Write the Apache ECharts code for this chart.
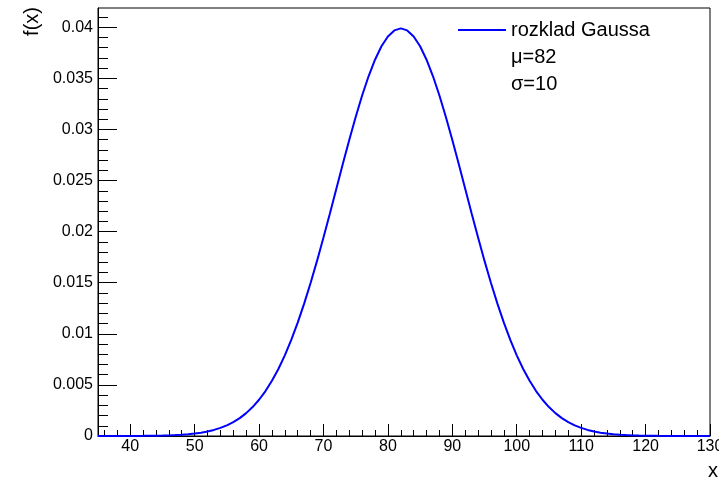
<!DOCTYPE html>
<html><head><meta charset="utf-8">
<script src="https://cdn.jsdelivr.net/npm/echarts@6/dist/echarts.min.js"></script>
<style>html,body{margin:0;padding:0;background:#fff}#c{width:719px;height:480px}</style>
</head><body><div id="c"></div>
<script>
// x positions (step 1) and f(x) values
const xValues = [35,36,37,38,39,40,41,42,43,44,45,46,47,48,49,50,51,52,53,54,55,56,57,58,59,60,61,62,63,64,65,66,67,68,69,70,71,72,73,74,75,76,77,78,79,80,81,82,83,84,85,86,87,88,89,90,91,92,93,94,95,96,97,98,99,100,101,102,103,104,105,106,107,108,109,110,111,112,113,114,115,116,117,118,119,120,121,122,123,124,125,126,127,128,129,130];
const yValues = [
  0.0000006,0.000001,0.0000016,0.0000025,0.000004,0.000006,0.000009,0.000013,0.00002,0.000029,
  0.000042,0.000061,0.000087,0.000123,0.000172,0.000238,0.000327,0.000443,0.000595,0.000792,
  0.001042,0.001358,0.001753,0.002239,0.002833,0.003547,0.004398,0.005399,0.006562,0.007895,
  0.009405,0.011092,0.012952,0.014973,0.017137,0.019419,0.021785,0.024197,0.026609,0.028969,
  0.031225,0.033322,0.035207,0.036827,0.038139,0.039104,0.039695,0.039894,
  0.039695,0.039104,0.038139,0.036827,0.035207,0.033322,0.031225,0.028969,0.026609,0.024197,
  0.021785,0.019419,0.017137,0.014973,0.012952,0.011092,0.009405,0.007895,0.006562,0.005399,
  0.004398,0.003547,0.002833,0.002239,0.001753,0.001358,0.001042,0.000792,0.000595,0.000443,
  0.000327,0.000238,0.000172,0.000123,0.000087,0.000061,0.000042,0.000029,0.00002,0.000013,
  0.000009,0.000006,0.000004,0.0000025,0.0000016,0.000001,0.0000006,0.0000004
];
const seriesName = 'rozklad Gaussa';
const legendExtra = ['\u03bc=82', '\u03c3=10'];
const xAxisTitle = 'x';
const yAxisTitle = 'f(x)';
const xMin = 35, xMax = 130;
const yMin = 0, yMax = 0.041888;
const xMajorTicks = [40,50,60,70,80,90,100,110,120,130];
const xMinorTicks = [36,38,42,44,46,48,52,54,56,58,62,64,66,68,72,74,76,78,82,84,86,88,92,94,96,98,102,104,106,108,112,114,116,118,122,124,126,128];
const yMajorTicks = [0,0.005,0.01,0.015,0.02,0.025,0.03,0.035,0.04];
const yMajorLabels = ['0','0.005','0.01','0.015','0.02','0.025','0.03','0.035','0.04'];
const yMinorTicks = [0.001,0.002,0.003,0.004,0.006,0.007,0.008,0.009,0.011,0.012,0.013,0.014,0.016,0.017,0.018,0.019,0.021,0.022,0.023,0.024,0.026,0.027,0.028,0.029,0.031,0.032,0.033,0.034,0.036,0.037,0.038,0.039,0.041];

const FONT = "'Liberation Sans', Arial, Helvetica, sans-serif";
const chart = echarts.init(document.getElementById('c'), null, {renderer: 'canvas'});
const yLabel = v => {
  const i = yMajorTicks.findIndex(t => Math.abs(t - v) < 1e-9);
  return i >= 0 ? yMajorLabels[i] : '';
};
const xLabel = v => {
  const i = xMajorTicks.findIndex(t => Math.abs(t - v) < 1e-9);
  return i >= 0 ? String(xMajorTicks[i]) : '';
};
chart.setOption({
  animation: false,
  backgroundColor: '#fff',
  grid: {left: 98, right: 9, top: 8, bottom: 44, show: true, borderColor: '#000', borderWidth: 1, containLabel: false, outerBoundsMode: 'none'},
  legend: {
    data: [seriesName], left: 458, top: 20, padding: 0,
    icon: 'rect', itemWidth: 48, itemHeight: 2,
    textStyle: {fontFamily: FONT, fontSize: 20, lineHeight: 20, color: '#000'}
  },
  graphic: [
    {type: 'text', left: 511, top: 47, style: {text: legendExtra[0], font: '20px ' + FONT, fill: '#000'}},
    {type: 'text', left: 511, top: 74, style: {text: legendExtra[1], font: '20px ' + FONT, fill: '#000'}},
    {type: 'text', x: 32, y: 7, rotation: Math.PI / 2, style: {text: yAxisTitle, font: '20px ' + FONT, fill: '#000', textAlign: 'right', textVerticalAlign: 'middle'}},
    {type: 'text', x: 713, y: 471, style: {text: xAxisTitle, font: '20px ' + FONT, fill: '#000', textAlign: 'center', textVerticalAlign: 'middle'}}
  ],
  xAxis: [
    {
      type: 'value', min: xMin, max: xMax, position: 'bottom',
      splitLine: {show: false},
      axisLine: {show: true, lineStyle: {color: '#000', width: 1}},
      axisTick: {show: true, inside: true, length: 12, customValues: xMajorTicks, lineStyle: {color: '#000'}},
      axisLabel: {show: true, customValues: xMajorTicks, formatter: xLabel, margin: 3, fontFamily: FONT, fontSize: 16, color: '#000', hideOverlap: false}
    },
    {
      type: 'value', min: xMin, max: xMax, position: 'bottom', offset: 0,
      splitLine: {show: false},
      axisLine: {show: false},
      axisTick: {show: true, inside: true, length: 6, customValues: xMinorTicks, lineStyle: {color: '#000'}},
      axisLabel: {show: false}
    }
  ],
  yAxis: [
    {
      type: 'value', min: yMin, max: yMax, position: 'left',
      splitLine: {show: false},
      axisLine: {show: true, lineStyle: {color: '#000', width: 1}},
      axisTick: {show: true, inside: true, length: 19, customValues: yMajorTicks, lineStyle: {color: '#000'}},
      axisLabel: {show: true, customValues: yMajorTicks, formatter: yLabel, margin: 5, fontFamily: FONT, fontSize: 16, color: '#000', hideOverlap: false}
    },
    {
      type: 'value', min: yMin, max: yMax, position: 'left', offset: 0,
      splitLine: {show: false},
      axisLine: {show: false},
      axisTick: {show: true, inside: true, length: 10, customValues: yMinorTicks, lineStyle: {color: '#000'}},
      axisLabel: {show: false}
    }
  ],
  series: [{
    name: seriesName, type: 'line', xAxisIndex: 0, yAxisIndex: 0,
    data: xValues.map((x, i) => [x, yValues[i]]),
    showSymbol: false, symbol: 'none', smooth: false,
    itemStyle: {color: '#0000ff'},
    lineStyle: {color: '#0000ff', width: 2}
  }]
});
</script></body></html>
